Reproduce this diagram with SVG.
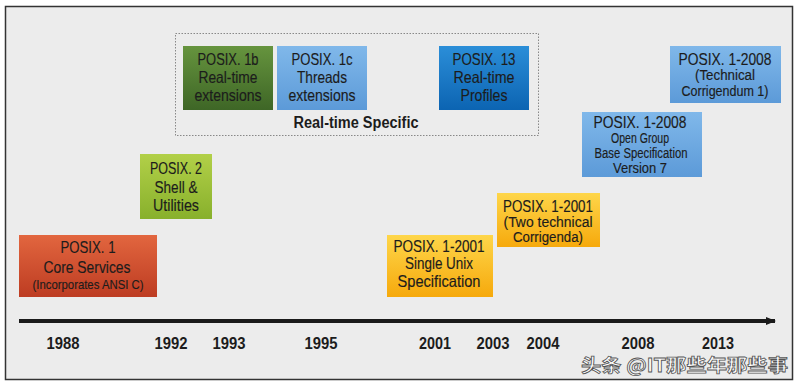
<svg xmlns="http://www.w3.org/2000/svg" width="800" height="386" viewBox="0 0 800 386">
<defs>
<linearGradient id="gRed" x1="0" y1="0" x2="0" y2="1"><stop offset="0" stop-color="#e2663f"/><stop offset="1" stop-color="#bd3c22"/></linearGradient>
<linearGradient id="gLime" x1="0" y1="0" x2="0" y2="1"><stop offset="0" stop-color="#b2d048"/><stop offset="1" stop-color="#88b02c"/></linearGradient>
<linearGradient id="gDark" x1="0" y1="0" x2="0" y2="1"><stop offset="0" stop-color="#66943e"/><stop offset="1" stop-color="#3e6626"/></linearGradient>
<linearGradient id="gLight" x1="0" y1="0" x2="0" y2="1"><stop offset="0" stop-color="#80b8ea"/><stop offset="1" stop-color="#5c9ad8"/></linearGradient>
<linearGradient id="gBlue" x1="0" y1="0" x2="0" y2="1"><stop offset="0" stop-color="#2b8ed8"/><stop offset="1" stop-color="#0c64b2"/></linearGradient>
<linearGradient id="gYel" x1="0" y1="0" x2="0" y2="1"><stop offset="0" stop-color="#fed64a"/><stop offset="1" stop-color="#f6a90c"/></linearGradient>
<marker id="arr" markerWidth="10" markerHeight="10" refX="9" refY="5" orient="auto" markerUnits="userSpaceOnUse"><path d="M0,1 L10,5 L0,9 Z" fill="#1a1a1a"/></marker>
</defs>
<style>
text{font-family:"Liberation Sans",Arial,sans-serif;fill:#1c1c1c;text-anchor:middle}
.b{font-size:16.5px;stroke:#1c1c1c;stroke-width:0.15}
.s{font-size:14px;stroke:#1c1c1c;stroke-width:0.15}
.h{font-weight:bold;font-size:16px}
.yr{font-weight:bold;font-size:17px}
.wm{font-family:"Noto Sans CJK SC","Liberation Sans",sans-serif;font-size:18px;font-weight:bold;fill:#ffffff;stroke:#555;stroke-width:0.8;text-anchor:start}
</style>
<rect x="0" y="0" width="800" height="386" fill="#ffffff"/>
<rect x="5.5" y="6.5" width="787" height="373" fill="#ececec" stroke="#333" stroke-width="1.5"/>
<g id="realtime-group">
<rect x="175.5" y="33.5" width="363" height="102" fill="none" stroke="#888" stroke-width="1" stroke-dasharray="1.5,1.5"/>
<text class="h" x="356" y="128" textLength="125" lengthAdjust="spacingAndGlyphs">Real-time Specific</text>
</g>
<g id="posix1">
<rect x="19" y="235" width="138" height="62" fill="url(#gRed)"/>
<text class="b" x="88" y="253" textLength="55" lengthAdjust="spacingAndGlyphs">POSIX. 1</text>
<text class="b" x="87" y="273" textLength="87" lengthAdjust="spacingAndGlyphs">Core Services</text>
<text class="s" x="88" y="289" textLength="111" lengthAdjust="spacingAndGlyphs" style="font-size:13.5px">(Incorporates ANSI C)</text>
</g>
<g id="posix2">
<rect x="140" y="154" width="72" height="65" fill="url(#gLime)"/>
<text class="b" x="176" y="174" textLength="52" lengthAdjust="spacingAndGlyphs">POSIX. 2</text>
<text class="b" x="176" y="193" textLength="43" lengthAdjust="spacingAndGlyphs">Shell &amp;</text>
<text class="b" x="176" y="211" textLength="46" lengthAdjust="spacingAndGlyphs">Utilities</text>
</g>
<g id="posix1b">
<rect x="183" y="46" width="90" height="64" fill="url(#gDark)"/>
<text class="b" x="228" y="65" textLength="61" lengthAdjust="spacingAndGlyphs">POSIX. 1b</text>
<text class="b" x="228" y="83" textLength="59" lengthAdjust="spacingAndGlyphs">Real-time</text>
<text class="b" x="228" y="101" textLength="67" lengthAdjust="spacingAndGlyphs">extensions</text>
</g>
<g id="posix1c">
<rect x="277" y="46" width="90" height="64" fill="url(#gLight)"/>
<text class="b" x="322" y="65" textLength="61" lengthAdjust="spacingAndGlyphs">POSIX. 1c</text>
<text class="b" x="322" y="83" textLength="50" lengthAdjust="spacingAndGlyphs">Threads</text>
<text class="b" x="322" y="101" textLength="67" lengthAdjust="spacingAndGlyphs">extensions</text>
</g>
<g id="posix13">
<rect x="439" y="46" width="90" height="64" fill="url(#gBlue)"/>
<text class="b" x="484" y="65" textLength="63" lengthAdjust="spacingAndGlyphs">POSIX. 13</text>
<text class="b" x="484" y="83" textLength="61" lengthAdjust="spacingAndGlyphs">Real-time</text>
<text class="b" x="484" y="101" textLength="47" lengthAdjust="spacingAndGlyphs">Profiles</text>
</g>
<g id="posix2001-sus">
<rect x="387" y="235" width="106" height="62" fill="url(#gYel)"/>
<text class="b" x="439" y="252" textLength="91" lengthAdjust="spacingAndGlyphs">POSIX. 1-2001</text>
<text class="b" x="439" y="269" textLength="68" lengthAdjust="spacingAndGlyphs">Single Unix</text>
<text class="b" x="439" y="287" textLength="83" lengthAdjust="spacingAndGlyphs">Specification</text>
</g>
<g id="posix2001-tc">
<rect x="497" y="193" width="103" height="54" fill="url(#gYel)"/>
<text class="b" x="548" y="212" textLength="90" lengthAdjust="spacingAndGlyphs">POSIX. 1-2001</text>
<text class="s" x="548" y="227" textLength="89" lengthAdjust="spacingAndGlyphs">(Two technical</text>
<text class="s" x="548" y="242" textLength="70" lengthAdjust="spacingAndGlyphs">Corrigenda)</text>
</g>
<g id="posix2008-og">
<rect x="582" y="112" width="120" height="65" fill="url(#gLight)"/>
<text class="b" x="640" y="128" textLength="93" lengthAdjust="spacingAndGlyphs">POSIX. 1-2008</text>
<text class="s" x="640" y="143" textLength="58" lengthAdjust="spacingAndGlyphs">Open Group</text>
<text class="s" x="641" y="158" textLength="93" lengthAdjust="spacingAndGlyphs">Base Specification</text>
<text class="s" x="640" y="173" textLength="54" lengthAdjust="spacingAndGlyphs">Version 7</text>
</g>
<g id="posix2008-tc1">
<rect x="670" y="46" width="111" height="57" fill="url(#gLight)"/>
<text class="b" x="725" y="65" textLength="93" lengthAdjust="spacingAndGlyphs">POSIX. 1-2008</text>
<text class="s" x="725" y="80" textLength="60" lengthAdjust="spacingAndGlyphs">(Technical</text>
<text class="s" x="725" y="96" textLength="87" lengthAdjust="spacingAndGlyphs">Corrigendum 1)</text>
</g>
<g id="connectors">
<line x1="19" y1="321" x2="775" y2="321" stroke="#1a1a1a" stroke-width="4" marker-end="url(#arr)"/>
</g>
<g id="years">
<text class="yr" x="63" y="349" textLength="33" lengthAdjust="spacingAndGlyphs">1988</text>
<text class="yr" x="171" y="349" textLength="33" lengthAdjust="spacingAndGlyphs">1992</text>
<text class="yr" x="229" y="349" textLength="33" lengthAdjust="spacingAndGlyphs">1993</text>
<text class="yr" x="321" y="349" textLength="33" lengthAdjust="spacingAndGlyphs">1995</text>
<text class="yr" x="435" y="349" textLength="32" lengthAdjust="spacingAndGlyphs">2001</text>
<text class="yr" x="493" y="349" textLength="33" lengthAdjust="spacingAndGlyphs">2003</text>
<text class="yr" x="543" y="349" textLength="33" lengthAdjust="spacingAndGlyphs">2004</text>
<text class="yr" x="638" y="349" textLength="33" lengthAdjust="spacingAndGlyphs">2008</text>
<text class="yr" x="718" y="349" textLength="32" lengthAdjust="spacingAndGlyphs">2013</text>
</g>
<text class="wm" x="581" y="372" textLength="207" lengthAdjust="spacingAndGlyphs">头条 @IT那些年那些事</text>
</svg>
